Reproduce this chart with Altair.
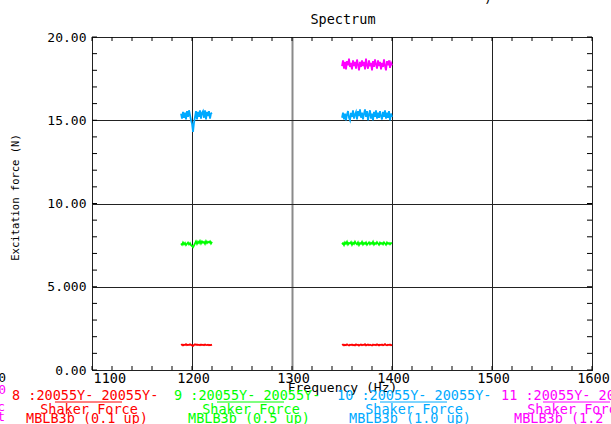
import altair as alt
import pandas as pd

# ---------------- data ----------------
left_freq = list(range(1189, 1221))    # 32 points
right_freq = list(range(1350, 1401))   # 51 points

series_names = ["8", "9", "10", "11"]
series_colors = ["#ff0000", "#00ff00", "#00aaff", "#ff00ff"]

red_left = [1.5, 1.53, 1.48, 1.52, 1.5, 1.55, 1.49, 1.52, 1.5, 1.54,
            1.51, 1.48, 1.45, 1.5, 1.54, 1.51, 1.53, 1.5, 1.52, 1.49,
            1.53, 1.5, 1.52, 1.49, 1.53, 1.51, 1.5, 1.52, 1.49, 1.51,
            1.5, 1.52]
red_right = [1.5, 1.53, 1.48, 1.52, 1.49, 1.54, 1.5, 1.47, 1.52, 1.5,
             1.53, 1.49, 1.51, 1.48, 1.54, 1.5, 1.52, 1.47, 1.51, 1.53,
             1.49, 1.52, 1.5, 1.55, 1.48, 1.51, 1.53, 1.49, 1.52, 1.5,
             1.47, 1.53, 1.5, 1.52, 1.49, 1.54, 1.51, 1.48, 1.52, 1.5,
             1.53, 1.49, 1.51, 1.55, 1.5, 1.48, 1.52, 1.5, 1.53, 1.49,
             1.51]
green_left = [7.6, 7.52, 7.66, 7.55, 7.63, 7.5, 7.58, 7.65, 7.54, 7.62,
              7.5, 7.45, 7.38, 7.48, 7.6, 7.72, 7.58, 7.7, 7.62, 7.75,
              7.6, 7.72, 7.65, 7.7, 7.58, 7.74, 7.62, 7.7, 7.66, 7.73,
              7.6, 7.7]
green_right = [7.55, 7.62, 7.5, 7.66, 7.58, 7.7, 7.54, 7.63, 7.6, 7.68,
               7.52, 7.64, 7.57, 7.7, 7.6, 7.55, 7.66, 7.5, 7.62, 7.58,
               7.69, 7.54, 7.63, 7.57, 7.66, 7.52, 7.6, 7.67, 7.55, 7.64,
               7.58, 7.7, 7.53, 7.62, 7.57, 7.68, 7.6, 7.52, 7.65, 7.58,
               7.63, 7.55, 7.67, 7.6, 7.52, 7.66, 7.58, 7.63, 7.55, 7.62,
               7.6]
blue_left = [15.4, 15.1, 15.5, 15.15, 15.45, 15.05, 15.55, 15.2, 15.6, 15.3,
             15.0, 14.8, 14.3, 14.85, 15.2, 15.55, 15.05, 15.5, 15.2, 15.6,
             15.1, 15.45, 15.55, 15.15, 15.6, 15.05, 15.5, 15.25, 15.55, 15.1,
             15.4, 15.45]
blue_right = [15.15, 15.45, 15.05, 15.4, 15.0, 15.35, 15.55, 15.15, 15.0, 15.45,
              15.2, 15.6, 15.1, 15.35, 15.5, 15.05, 15.55, 15.25, 15.65, 15.15,
              15.45, 15.05, 15.4, 15.65, 15.2, 15.55, 15.0, 15.35, 15.6, 15.1,
              15.4, 15.0, 15.5, 15.2, 15.6, 15.1, 15.45, 15.15, 15.55, 15.25,
              15.05, 15.5, 15.2, 15.6, 15.1, 15.45, 15.15, 15.55, 15.0, 15.4,
              15.2]
magenta_right = [18.25, 18.6, 18.1, 18.5, 18.05, 18.55, 18.3, 18.7, 18.2, 18.45,
                 18.05, 18.6, 18.25, 18.5, 18.1, 18.65, 18.35, 18.0, 18.5, 18.2,
                 18.6, 18.25, 18.5, 18.05, 18.7, 18.3, 18.1, 18.6, 18.25, 18.45,
                 18.0, 18.55, 18.2, 18.65, 18.35, 18.1, 18.6, 18.25, 18.5, 18.05,
                 18.45, 18.2, 18.65, 18.25, 18.0, 18.55, 18.3, 18.6, 18.15, 18.45,
                 18.3]

x_major = [1100, 1200, 1300, 1400, 1500, 1600]
x_minor = list(range(1100, 1601, 20))
y_major = [0, 5, 10, 15, 20]
y_minor = list(range(0, 21, 1))

legend_ids = ["8 :20055Y- 20055Y-", "9 :20055Y- 20055Y-",
              "10 :20055Y- 20055Y-", "11 :20055Y- 20055Y-"]
legend_names = ["Shaker Force"] * 4
legend_subs = ["MBLB3b (0.1 up)", "MBLB3b (0.5 up)",
               "MBLB3b (1.0 up)", "MBLB3b (1.2 up)"]

# ---------------- build table ----------------
rows = []
segments = [
    ("8", "a", left_freq, red_left), ("8", "b", right_freq, red_right),
    ("9", "a", left_freq, green_left), ("9", "b", right_freq, green_right),
    ("10", "a", left_freq, blue_left), ("10", "b", right_freq, blue_right),
    ("11", "b", right_freq, magenta_right),
]
for s, seg, fr, vals in segments:
    for f, v in zip(fr, vals):
        rows.append({"series": s, "seg": s + seg, "freq": f, "val": v})
df = pd.DataFrame(rows)

FONT = "DejaVu Sans Mono"
W, H = 500, 333

xscale = alt.Scale(domain=[1100, 1600], nice=False, zero=False)
yscale = alt.Scale(domain=[0, 20], nice=False, zero=True)

xaxis = alt.Axis(
    values=x_major, format="d", grid=True,
    gridColor={"condition": {"test": "datum.value == 1300", "value": "#8a8a8a"}, "value": "#222222"},
    gridWidth={"condition": {"test": "datum.value == 1300", "value": 2}, "value": 1},
    tickSize=0, domain=False, labelFont=FONT, labelFontSize=13.5, labelColor="black",
    labelPadding=8, labelBaseline="middle", labelOffset=1,
    labelAlign={"condition": {"test": "datum.value == 1100", "value": "left"}, "value": "center"},
    title="Frequency (Hz)", titleFont=FONT, titleFontSize=13, titleFontWeight="normal",
    titleColor="black", titleX=250, titleY=17, titleBaseline="middle", titleAlign="center",
)
yaxis = alt.Axis(
    values=y_major, grid=True, gridColor="#222222", gridWidth=1,
    tickSize=0, domain=False, labelFont=FONT, labelFontSize=13, labelColor="black",
    labelPadding=6, labelBaseline="middle",
    labelExpr="datum.value == 5 ? '5.000' : format(datum.value, '.2f')",
    title="Excitation force (N)", titleFont=FONT, titleFontSize=10.5, titleFontWeight="normal",
    titleColor="black", titleX=-77, titleY=160, titleAngle=270, titleBaseline="middle",
    titleAlign="center",
)

lines = alt.Chart(df).mark_line(strokeWidth=1.8, clip=True).encode(
    x=alt.X("freq:Q", scale=xscale, axis=xaxis),
    y=alt.Y("val:Q", scale=yscale, axis=yaxis),
    color=alt.Color("series:N", scale=alt.Scale(domain=series_names, range=series_colors), legend=None),
    detail="seg:N",
    order="freq:Q",
)

xm = pd.DataFrame({"v": x_minor})
ym = pd.DataFrame({"v": y_minor})
tick_top = alt.Chart(xm).mark_rule(color="black", strokeWidth=1).encode(
    x=alt.X("v:Q", scale=xscale), y=alt.value(0), y2=alt.value(4))
tick_bot = alt.Chart(xm).mark_rule(color="black", strokeWidth=1).encode(
    x=alt.X("v:Q", scale=xscale), y=alt.value(H), y2=alt.value(H - 4))
tick_left = alt.Chart(ym).mark_rule(color="black", strokeWidth=1).encode(
    y=alt.Y("v:Q", scale=yscale), x=alt.value(0), x2=alt.value(5))
tick_right = alt.Chart(ym).mark_rule(color="black", strokeWidth=1).encode(
    y=alt.Y("v:Q", scale=yscale), x=alt.value(W), x2=alt.value(W - 5))


def label(text, x, y, color="black", size=13, align="center", baseline="middle"):
    return alt.Chart(pd.DataFrame({"t": [text]})).mark_text(
        align=align, baseline=baseline, font=FONT, fontSize=size, color=color
    ).encode(text="t:N", x=alt.value(x), y=alt.value(y))


def hline(x1, x2, y, color):
    return alt.Chart(pd.DataFrame({"t": [0]})).mark_rule(color=color, strokeWidth=1).encode(
        x=alt.value(x1), x2=alt.value(x2), y=alt.value(y))


layers = [lines, tick_top, tick_bot, tick_left, tick_right,
          label("Spectrum", 251, -17, size=13.5),
          label(")", 396, -34, size=13, baseline="alphabetic"),
          label("0", -86, 341, align="right"),
          label("0", -86, 353, color="#ff00ff", align="right"),
          label("c", -87, 370, color="#ff00ff", align="right"),
          label("t", -87, 380, color="#ff00ff", align="right")]

id_x = [-80, 82, 245, 409]
name_x = [-3, 159, 322, 484]
sub_x = [-5, 157, 318, 483]
ul_x = [-37, 125, 288, 451]
for i in range(4):
    c = series_colors[i]
    layers.append(label(legend_ids[i], id_x[i], 359, color=c, size=13.5, align="left"))
    layers.append(hline(ul_x[i], ul_x[i] + 67, 365, c))
    layers.append(label(legend_names[i], name_x[i], 372.5, color=c, size=13.5))
    layers.append(label(legend_subs[i], sub_x[i], 382, color=c, size=13.5))

chart = alt.layer(*layers).properties(
    width=W, height=H,
    autosize=alt.AutoSizeParams(type="none"),
    padding={"left": 92, "top": 37, "right": 19, "bottom": 54},
    background="white",
).configure_view(stroke="black", strokeWidth=1)

chart.save("out.html", embed_options={"renderer": "svg", "actions": False})
